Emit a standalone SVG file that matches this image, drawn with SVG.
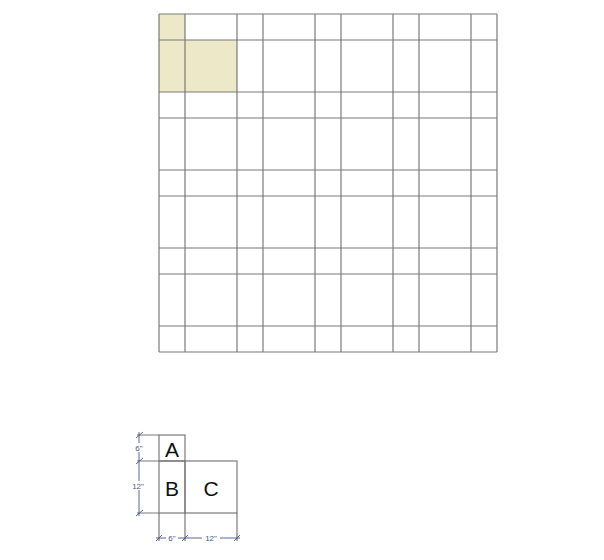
<svg xmlns="http://www.w3.org/2000/svg" width="604" height="560" viewBox="0 0 604 560">
<style>
.g{stroke:#7a7a7a;stroke-width:1.2;fill:none}
.d{stroke:#4a5288;stroke-width:0.9;fill:none}
.dt{font-family:"Liberation Sans",Arial,sans-serif;font-size:8px;fill:#4a5288;text-anchor:middle}
.lt{font-family:"Liberation Sans",Arial,sans-serif;font-size:21px;fill:#111;text-anchor:middle}
</style>
<rect width="604" height="560" fill="#fff"/>
<g id="shading">
<rect x="159" y="14" width="26" height="26" fill="#ece8c8"/>
<rect x="159" y="40" width="78" height="52" fill="#ece8c8"/>
</g>
<g id="grid" class="g">
<path d="M159 14V352M185 14V352M237 14V352M263 14V352M315 14V352M341 14V352M393 14V352M419 14V352M471 14V352M497 14V352"/>
<path d="M159 14H497M159 40H497M159 92H497M159 118H497M159 170H497M159 196H497M159 248H497M159 274H497M159 326H497M159 352H497"/>
</g>
<g id="legend">
<g id="boxA"><rect class="g" x="159" y="435" width="26" height="26"/><text class="lt" x="172" y="457">A</text></g>
<g id="boxB"><rect class="g" x="159" y="461" width="26" height="52"/><text class="lt" x="172" y="496">B</text></g>
<g id="boxC"><rect class="g" x="185" y="461" width="52" height="52"/><text class="lt" x="211" y="496">C</text></g>
<path class="g" d="M137 435H159M137 461H159M137 513H159M159 513V541M185 513V541M237 513V541"/>
</g>
<g id="dimensions">
<path class="d" d="M139 432V516M136 438L143 432M136 464L143 458M136 516L143 510"/>
<path class="d" d="M156 538H240M156 541L162 535M182 541L188 535M234 541L240 535"/>
<rect x="133" y="443" width="12" height="9" fill="#fff"/>
<text class="dt" x="139" y="451">6"</text>
<rect x="130" y="481" width="16" height="9" fill="#fff"/>
<text class="dt" x="138" y="489">12"</text>
<rect x="166" y="534" width="12" height="8" fill="#fff"/>
<text class="dt" x="172" y="541">6"</text>
<rect x="202" y="534" width="18" height="8" fill="#fff"/>
<text class="dt" x="211" y="541">12"</text>
</g>
</svg>
